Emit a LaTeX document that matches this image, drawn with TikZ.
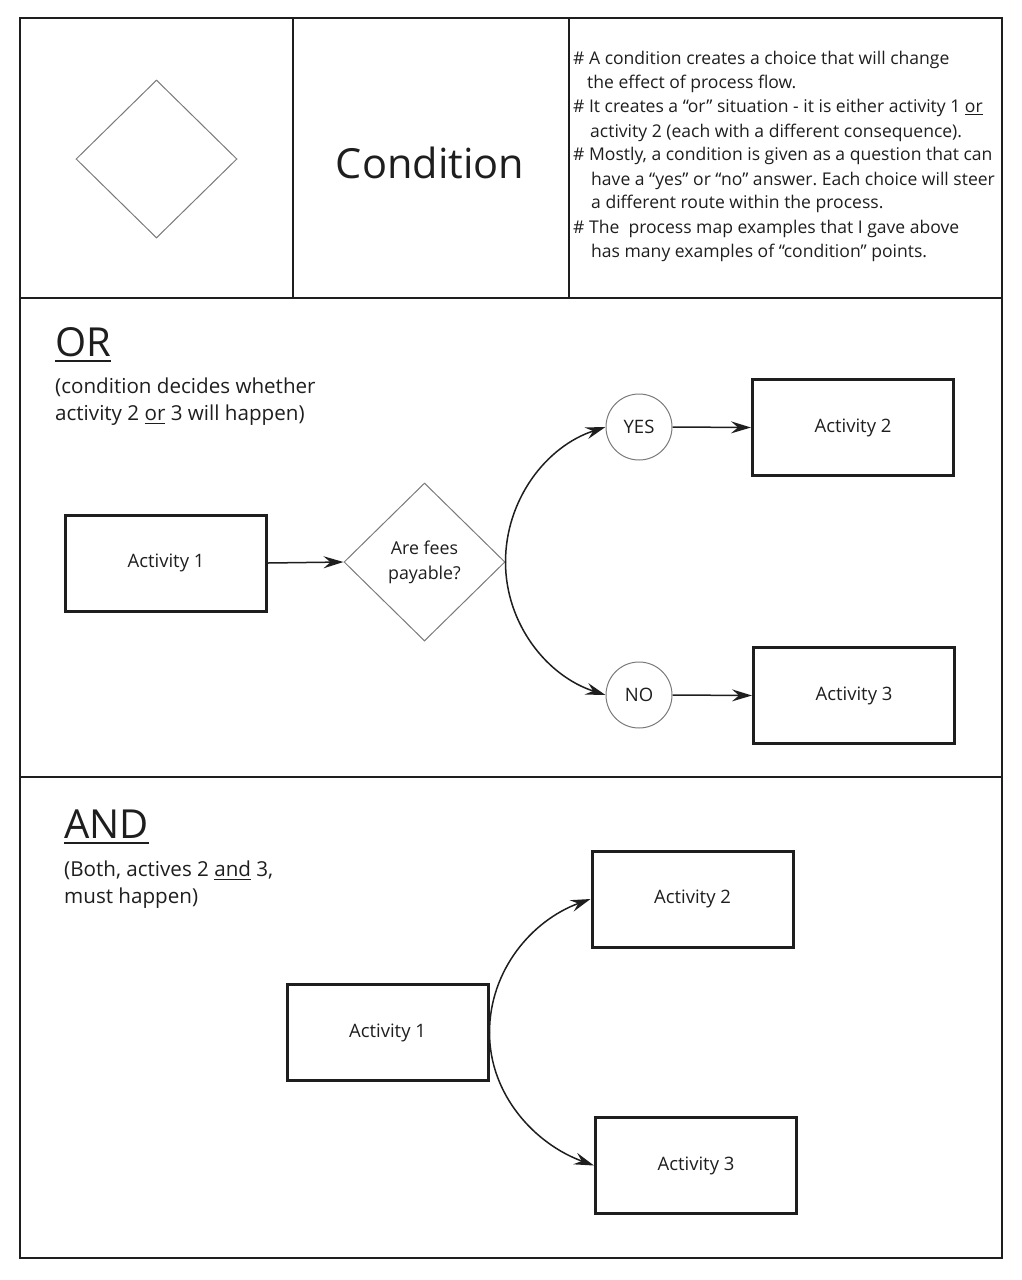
\documentclass[tikz,border=0pt]{standalone}
\usepackage{fontspec}
\setmainfont{Open Sans}
\usetikzlibrary{arrows.meta,shapes.geometric}
\frenchspacing
\newcommand\myul[3]{\setbox0\hbox{#3}\rlap{\raisebox{-#1}{\rule{\wd0}{#2}}}\box0\relax}
\definecolor{ink}{HTML}{1E1E1E}
\definecolor{shapegray}{HTML}{7A7A7A}
\begin{document}
\begin{tikzpicture}[x=1pt,y=-1pt,
  frameline/.style={draw=ink, line width=1.2pt},
  actbox/.style={draw=ink, line width=3pt, minimum width=201pt, minimum height=96pt, inner sep=0pt, text=ink, font=\fontsize{18.5}{22}\selectfont},
  decision/.style={diamond, draw=shapegray, line width=1pt, minimum width=161pt, minimum height=158pt, inner sep=0pt, aspect=1.02, text=ink, font=\fontsize{17.8}{25}\selectfont, align=center},
  answer/.style={circle, draw=shapegray, line width=1pt, minimum size=66pt, inner sep=0pt, text=ink, font=\fontsize{18.5}{22}\selectfont},
  flow/.style={draw=ink, line width=1.5pt, -{Stealth[length=20pt,width=12pt,inset=7pt]}},
  bullet/.style={anchor=base west, inner sep=0pt, text=ink, font=\fontsize{17.55}{20}\selectfont},
  heading/.style={anchor=base west, inner sep=0pt, text=ink, font=\fontsize{40}{44}\selectfont},
  note/.style={anchor=base west, inner sep=0pt, text=ink, font=\fontsize{20.6}{24}\selectfont}]
\useasboundingbox (0,0) rectangle (1022,1280);
% frame
\draw[frameline] (20,18) rectangle (1002,1258);
\draw[frameline] (20,298) -- (1002,298);
\draw[frameline] (20,777) -- (1002,777);
\draw[frameline] (293,18) -- (293,298);
\draw[frameline] (569,18) -- (569,298);
% top row
\node[decision] (legend) at (156.5,159) {};
\node[anchor=base, inner sep=0pt, text=ink, font=\fontsize{41.5}{44}\selectfont] (condtitle) at (430,178) {Condition};
\node[bullet] (b1) at (573,64) {\# A condition creates a choice that will change};
\node[bullet] (b2) at (587,88) {the effect of process flow.};
\node[bullet] (b3) at (573,112) {\# It creates a “or” situation - it is either activity 1 \myul{3pt}{1pt}{or}};
\node[bullet] (b4) at (590,137) {activity 2 (each with a different consequence).};
\node[bullet] (b5) at (573,160) {\# Mostly, a condition is given as a question that can};
\node[bullet] (b6) at (591,185) {have a “yes” or “no” answer. Each choice will steer};
\node[bullet] (b7) at (591,208) {a different route within the process.};
\node[bullet] (b8) at (573,233) {\# The~ process map examples that I gave above};
\node[bullet] (b9) at (591,257) {has many examples of “condition” points.};
% OR section
\node[heading] (orhead) at (55,356) {\myul{6pt}{2pt}{OR}};
\node[note] (ornote1) at (55,393) {(condition decides whether};
\node[note] (ornote2) at (55,420) {activity 2 \myul{4pt}{1.2pt}{or} 3 will happen)};
\node[actbox] (oa1) at (166,563) {Activity 1};
\node[decision] (fees) at (424.5,562) {Are fees\\payable?};
\node[answer] (yes) at (639,427) {YES};
\node[answer] (no) at (639,695) {NO};
\node[actbox] (oa2) at (853,427.5) {Activity 2};
\node[actbox] (oa3) at (854,695.5) {Activity 3};
\draw[flow] (oa1.east) -- (fees.west);
\draw[flow] (fees.east) to[out=90, in=198, looseness=0.95] (yes.west);
\draw[flow] (fees.east) to[out=-90, in=162, looseness=0.95] (no.west);
\draw[flow] (yes.east) -- (oa2.west);
\draw[flow] (no.east) -- (oa3.west);
% AND section
\node[heading] (andhead) at (64,838) {\myul{6pt}{2pt}{AND}};
\node[note] (andnote1) at (64,876) {(Both, actives 2 \myul{4pt}{1.2pt}{and} 3,};
\node[note] (andnote2) at (64,903) {must happen)};
\node[actbox] (aa1) at (387.5,1032.5) {Activity 1};
\node[actbox] (aa2) at (692.5,899) {Activity 2};
\node[actbox] (aa3) at (696,1165.5) {Activity 3};
\draw[flow] (aa1.east) to[out=90, in=200, looseness=0.95] (aa2.west);
\draw[flow] (aa1.east) to[out=-90, in=160, looseness=0.95] (aa3.west);
\end{tikzpicture}
\end{document}
